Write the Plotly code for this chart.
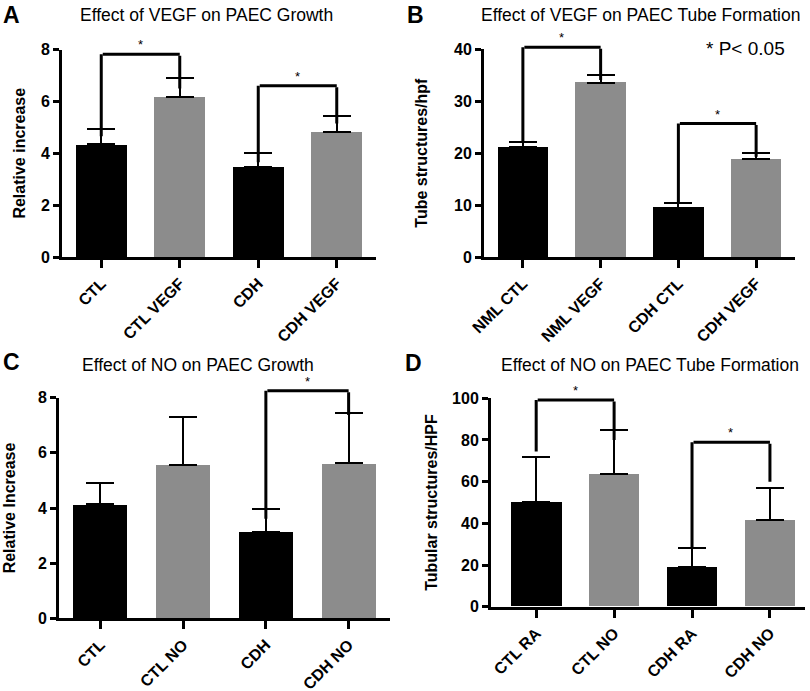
import plotly.graph_objects as go

# ---------------- data ----------------
cats_a = ["CTL", "CTL VEGF", "CDH", "CDH VEGF"]
vals_a = [4.35, 6.18, 3.48, 4.83]
err_a = [0.58, 0.73, 0.53, 0.59]

cats_b = ["NML CTL", "NML VEGF", "CDH CTL", "CDH VEGF"]
vals_b = [21.2, 33.6, 9.5, 18.8]
err_b = [0.9, 1.4, 0.9, 1.3]

cats_c = ["CTL", "CTL NO", "CDH", "CDH NO"]
vals_c = [4.13, 5.57, 3.13, 5.62]
err_c = [0.77, 1.74, 0.82, 1.81]

cats_d = ["CTL RA", "CTL NO", "CDH RA", "CDH NO"]
vals_d = [50.1, 63.7, 18.9, 41.6]
err_d = [21.9, 21.0, 9.1, 15.5]

# significance brackets: (left idx, right idx, top, left end, right end)
brackets_a = [(0, 1, 7.82, 4.6, 6.5), (2, 3, 6.6, 3.6, 5.15)]
brackets_b = [(0, 1, 40.4, 22.0, 34.1), (2, 3, 25.7, 10.0, 19.3)]
brackets_c = [(2, 3, 8.25, 3.56, 7.37)]
brackets_d = [(0, 1, 99.2, 73.8, 80.0), (2, 3, 78.9, 27.2, 60.0)]

titles = ["Effect of VEGF on PAEC Growth", "Effect of VEGF on PAEC Tube Formation",
          "Effect of NO on PAEC Growth", "Effect of NO on PAEC Tube Formation"]
letters = ["A", "B", "C", "D"]
ytitles = ["Relative increase", "Tube structures/hpf", "Relative Increase", "Tubular structures/HPF"]

BAR_COLORS = ["#000000", "#8c8c8c", "#000000", "#8c8c8c"]
FONT = "Liberation Sans, Arial, sans-serif"

W, H = 810, 691

def fx(px):
    return px / W

def fy(px):
    return 1 - px / H

panels = [
    dict(cats=cats_a, vals=vals_a, err=err_a, br=brackets_a, yr=[0, 8], dt=2, xr=[-0.5, 3.5],
         xd=[fx(62), fx(376)], yd=[fy(257), fy(49.5)], ax="x", ay="y", so=12),
    dict(cats=cats_b, vals=vals_b, err=err_b, br=brackets_b, yr=[0, 40], dt=10, xr=[-0.5, 3.5],
         xd=[fx(484), fx(795)], yd=[fy(257), fy(49.3)], ax="x2", ay="y2", so=23),
    dict(cats=cats_c, vals=vals_c, err=err_c, br=brackets_c, yr=[0, 8], dt=2, xr=[-0.5, 3.5],
         xd=[fx(59), fx(390)], yd=[fy(618.3), fy(397.7)], ax="x3", ay="y3", so=19),
    dict(cats=cats_d, vals=vals_d, err=err_d, br=brackets_d, yr=[0, 100], dt=20, xr=[-0.58, 3.45],
         xd=[fx(491), fx(805)], yd=[fy(606.7), fy(398.3)], ax="x4", ay="y4", so=11),
]

fig = go.Figure()
annotations = []

for k, p in enumerate(panels):
    xs = list(range(len(p["cats"])))
    fig.add_trace(go.Bar(
        x=xs, y=p["vals"], width=0.65,
        marker=dict(color=BAR_COLORS, line=dict(width=0)),
        error_y=dict(type="data", symmetric=False, array=p["err"], arrayminus=[0] * 4,
                     color="black", thickness=2, width=14),
        xaxis=p["ax"], yaxis=p["ay"], showlegend=False,
    ))
    suffix = "" if k == 0 else str(k + 1)
    common = dict(showline=True, linecolor="black", linewidth=3, ticks="outside",
                  tickcolor="black", tickwidth=3, showgrid=False, zeroline=False,
                  automargin=False,
                  tickfont=dict(family=FONT, size=16, color="black", weight="bold"))
    fig.update_layout(**{
        "xaxis" + suffix: dict(domain=p["xd"], range=p["xr"], anchor=p["ay"],
                               tickmode="array", tickvals=xs, ticktext=p["cats"],
                               tickangle=-45, ticklen=8, **common),
        "yaxis" + suffix: dict(domain=p["yd"], range=p["yr"], anchor=p["ax"],
                               dtick=p["dt"], tick0=0, ticklen=6,
                               title=dict(text=ytitles[k], standoff=p["so"],
                                          font=dict(family=FONT, size=16, color="black", weight="bold")),
                               **common),
    })
    # brackets drawn as line segments (annotation arrows without heads),
    # positioned in fractions of the y-axis domain so they may rise above the axis range
    ymax = p["yr"][1]
    ydom = p["ay"] + " domain"
    for (i, j, top, lo_i, lo_j) in p["br"]:
        for (x0, y0, x1, y1) in [(i, lo_i, i, top), (i, top, j, top), (j, top, j, lo_j)]:
            annotations.append(dict(
                x=x1, y=y1 / ymax, ax=x0, ay=y0 / ymax, xref=p["ax"], yref=ydom,
                axref=p["ax"], ayref=ydom, text="", showarrow=True,
                arrowhead=0, arrowwidth=3, arrowcolor="black", standoff=0, startstandoff=0))
        annotations.append(dict(
            x=(i + j) / 2, y=top / ymax, xref=p["ax"], yref=ydom, text="*", showarrow=False,
            yanchor="bottom", yshift=0, font=dict(family=FONT, size=13, color="black")))

# panel titles and letters
title_pos = [(206, 15), (640, 15), (198, 365), (650, 365)]
letter_pos = [(11, 15), (415, 15), (11, 362), (414, 363)]
for k in range(4):
    tx, ty = title_pos[k]
    annotations.append(dict(x=fx(tx), y=fy(ty), xref="paper", yref="paper", text=titles[k],
                            showarrow=False, xanchor="center", yanchor="middle",
                            font=dict(family=FONT, size=17.5, color="black")))
    lx, ly = letter_pos[k]
    annotations.append(dict(x=fx(lx), y=fy(ly), xref="paper", yref="paper", text=letters[k],
                            showarrow=False, xanchor="center", yanchor="middle",
                            font=dict(family=FONT, size=23, color="black", weight="bold")))

annotations.append(dict(x=fx(745), y=fy(48), xref="paper", yref="paper", text="* P< 0.05",
                        showarrow=False, xanchor="center", yanchor="middle",
                        font=dict(family=FONT, size=19, color="black")))

fig.update_layout(
    width=W, height=H, margin=dict(l=0, r=0, t=0, b=0, pad=0, autoexpand=False),
    paper_bgcolor="white", plot_bgcolor="white",
    annotations=annotations, bargap=0,
)

fig.write_html("out.html", config={"displayModeBar": False},
               post_script="document.body.style.margin='0';document.body.style.padding='0';")
